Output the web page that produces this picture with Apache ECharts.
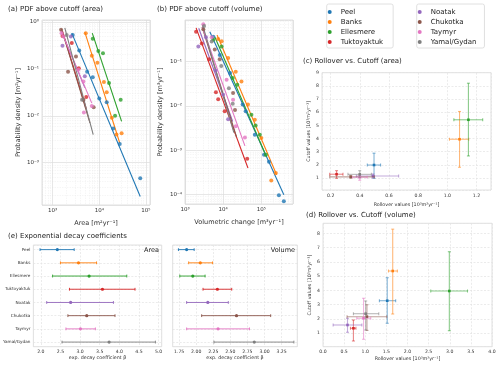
<!DOCTYPE html>
<html>
<head>
<meta charset="utf-8">
<script src="https://cdn.jsdelivr.net/npm/echarts@6/dist/echarts.min.js"></script>
<style>
html, body { margin: 0; padding: 0; background: #fff; }
#chart { width: 500px; height: 371px; }
</style>
</head>
<body>
<div id="chart"></div>
<script>
// regions, in legend order
const regions = ['Peel', 'Banks', 'Ellesmere', 'Tuktoyaktuk', 'Noatak', 'Chukotka', 'Taymyr', 'Yamal/Gydan'];
const colors = ['#1f77b4', '#ff7f0e', '#2ca02c', '#d62728', '#9467bd', '#8c564b', '#e377c2', '#7f7f7f'];

// (a) PDF above cutoff (area): points as [log10 area, log10 density]
const areaPts = [
  [[3.43, -0.28], [3.57, -0.61], [3.74, -1.06], [3.86, -1.18], [4.00, -1.63], [4.16, -1.71], [4.30, -2.27], [4.44, -2.60], [4.88, -3.33]],
  [[3.71, -0.24], [3.84, -0.72], [3.96, -0.87], [4.10, -1.28], [4.16, -1.50], [4.27, -2.04], [4.37, -2.40], [4.48, -2.37]],
  [[3.86, -0.36], [3.98, -0.62], [4.08, -0.67], [4.21, -1.30], [4.34, -2.00], [4.46, -1.66]],
  [[3.21, -0.30], [3.41, -0.45], [3.56, -0.99], [3.72, -1.60]],
  [[3.21, -0.51], [3.39, -0.31], [3.69, -1.16]],
  [[3.18, -0.17], [3.50, -0.74], [3.33, -1.06], [3.66, -1.66], [3.88, -1.82]],
  [[3.19, -0.24], [3.23, -0.31], [3.55, -1.02], [3.66, -1.27], [3.84, -1.79], [3.67, -1.93]],
  [[3.30, -0.28], [3.63, -1.66]]
];
// fitted power laws (end points, log10)
const areaFit = [
  [[3.41, -0.24], [4.88, -3.72]],
  [[3.69, -0.22], [4.44, -2.58]],
  [[3.85, -0.24], [4.48, -2.12]],
  [[3.21, -0.20], [3.72, -1.85]],
  [[3.19, -0.21], [3.69, -1.40]],
  [[3.19, -0.15], [3.80, -2.15]],
  [[3.17, -0.17], [3.84, -1.73]],
  [[3.26, -0.13], [3.87, -2.40]]
];

// (b) PDF above cutoff (volume): [log10 volume, log10 density]
const volPts = [
  [[3.74, -0.44], [3.91, -0.85], [4.18, -1.26], [4.51, -1.97], [4.59, -2.12], [4.83, -2.65], [5.07, -3.10], [5.20, -3.26], [5.46, -4.01], [5.59, -4.15]],
  [[3.87, -0.49], [3.96, -0.54], [4.13, -0.92], [4.33, -1.23], [4.48, -1.45], [4.65, -1.97], [4.83, -2.31], [5.00, -2.72], [5.26, -3.68], [5.38, -3.51]],
  [[3.74, -0.51], [3.96, -0.66], [4.25, -1.37], [4.37, -1.52], [4.74, -2.20], [4.85, -2.44], [4.96, -2.65], [5.12, -3.10]],
  [[3.29, -0.33], [3.44, -0.59], [3.63, -0.95], [3.81, -1.69], [3.87, -1.85], [4.04, -2.12], [4.63, -3.19]],
  [[3.35, -0.66], [3.55, -0.45], [3.80, -1.20], [4.00, -1.75], [4.13, -2.30]],
  [[3.48, -0.27], [3.78, -0.73], [3.91, -0.95], [4.26, -1.71], [4.31, -2.09]],
  [[3.48, -0.16], [3.70, -0.45], [4.09, -1.41], [4.26, -1.86], [4.33, -2.46], [4.57, -2.71]],
  [[3.50, -0.20], [3.70, -0.55], [3.95, -1.10], [4.15, -1.60], [4.25, -1.95]]
];
const volFit = [
  [[3.65, -0.33], [5.59, -4.00]],
  [[3.84, -0.40], [5.40, -3.55]],
  [[3.78, -0.44], [5.13, -3.14]],
  [[3.29, -0.24], [4.65, -3.40]],
  [[3.36, -0.25], [4.25, -2.35]],
  [[3.45, -0.22], [4.35, -2.70]],
  [[3.45, -0.22], [4.57, -2.90]],
  [[3.46, -0.17], [4.28, -2.60]]
];

// (c) rollover vs cutoff, area: [rollover, cutoff, rollLo, rollHi, cutLo, cutHi]
const areaRoll = [
  [0.497, 1.98, 0.451, 0.542, 0.97, 2.88],
  [1.084, 3.94, 1.015, 1.147, 1.81, 6.05],
  [1.145, 5.42, 1.045, 1.243, 2.67, 8.20],
  [0.240, 1.28, 0.193, 0.284, 0.97, 1.55],
  [0.490, 1.15, 0.376, 0.666, 1.00, 1.30],
  [0.337, 1.08, 0.193, 0.500, 0.98, 1.18],
  [0.399, 1.05, 0.350, 0.450, 0.82, 1.20],
  [0.399, 1.27, 0.318, 0.479, 1.05, 1.55]
];
// (d) rollover vs cutoff, volume
const volRoll = [
  [1.52, 3.28, 1.335, 1.72, 1.70, 4.89],
  [1.65, 5.36, 1.55, 1.76, 2.35, 8.29],
  [2.99, 3.96, 2.55, 3.42, 1.18, 6.71],
  [0.72, 1.35, 0.65, 0.78, 0.46, 1.93],
  [0.58, 1.58, 0.24, 0.92, 1.07, 2.05],
  [1.04, 2.16, 0.57, 1.51, 1.20, 3.00],
  [0.96, 2.05, 0.80, 1.13, 0.58, 3.45],
  [1.01, 2.37, 0.72, 1.32, 1.23, 3.26]
];

// (e) exponential decay coefficient beta: [beta, lo, hi]
const betaArea = [
  [2.42, 1.98, 2.85], [2.96, 2.50, 3.42], [3.23, 2.30, 4.19], [3.57, 2.73, 4.40],
  [2.76, 2.15, 3.85], [3.17, 2.69, 3.89], [3.01, 2.64, 3.39], [3.74, 2.54, 4.92]
];
const betaVol = [
  [1.86, 1.74, 1.97], [2.06, 1.89, 2.24], [1.95, 1.76, 2.13], [2.31, 2.10, 2.52],
  [2.17, 1.86, 2.47], [2.59, 2.08, 3.09], [2.32, 1.86, 2.78], [2.85, 2.26, 3.43]
];

const SUP = { '0': '⁰', '1': '¹', '2': '²', '3': '³', '4': '⁴', '5': '⁵', '6': '⁶', '7': '⁷', '8': '⁸', '9': '⁹', '-': '⁻' };
function pow10Label(v) {
  const l = Math.log10(v);
  const e = Math.round(l);
  if (Math.abs(l - e) > 1e-6) return '';
  return '10' + String(e).split('').map(c => SUP[c]).join('');
}

const FONT = 'DejaVu Sans';
const gridLine = { show: true, lineStyle: { color: '#e3e3e3', width: 0.7, type: [2, 1.5] } };

function logAxis(gi, min, max, name, gap) {
  return {
    type: 'log', gridIndex: gi, min: min, max: max,
    name: name, nameLocation: 'middle', nameGap: gap,
    nameTextStyle: { fontSize: 6.5, color: '#333' },
    axisLine: { show: false }, axisTick: { show: false },
    axisLabel: { fontSize: 5.5, color: '#333', margin: 3, formatter: pow10Label, showMinLabel: false, showMaxLabel: false },
    splitLine: { show: true, lineStyle: { color: '#dcdcdc', width: 0.7 } },
    minorTick: { show: false, splitNumber: 9 },
    minorSplitLine: { show: true, lineStyle: { color: '#ececec', width: 0.5, type: [1.5, 1] } }
  };
}
function valAxis(gi, min, max, step, opts) {
  return Object.assign({
    type: 'value', gridIndex: gi, min: min, max: max, minInterval: step, maxInterval: step,
    nameLocation: 'middle', nameTextStyle: { fontSize: 4.8, color: '#333' },
    axisLine: { show: false }, axisTick: { show: false },
    axisLabel: { fontSize: 4.6, color: '#333', margin: 3, showMinLabel: false, showMaxLabel: false },
    splitLine: gridLine
  }, opts);
}

const grids = [
  { left: 42, top: 20, width: 108, height: 185 },     // a
  { left: 185, top: 20, width: 108, height: 184 },    // b
  { left: 322, top: 72.7, width: 169, height: 117.3 }, // c
  { left: 323, top: 223.3, width: 169, height: 123.4 }, // d
  { left: 33.3, top: 245, width: 128.4, height: 101.7 }, // e area
  { left: 172.7, top: 245, width: 124.6, height: 101.7 } // e volume
].map(g => Object.assign({ show: true, borderColor: '#d8d8d8', borderWidth: 0.8, backgroundColor: '#fff' }, g));

const xAxes = [
  logAxis(0, Math.pow(10, 2.77), Math.pow(10, 5.09), 'Area [m²yr⁻¹]', 15),
  logAxis(1, 1000, Math.pow(10, 5.83), 'Volumetric change [m³yr⁻¹]', 15),
  valAxis(2, 0.14, 1.3, 0.2, { name: 'Rollover values [10³m²yr⁻¹]', nameGap: 12,
    axisLabel: { fontSize: 4.6, color: '#333', margin: 3, showMinLabel: false, showMaxLabel: false, formatter: v => v.toFixed(1) } }),
  valAxis(3, 0, 4, 0.5, { name: 'Rollover values [10³m³yr⁻¹]', nameGap: 10,
    axisLabel: { fontSize: 4.6, color: '#333', margin: 3, formatter: v => v.toFixed(1) } }),
  valAxis(4, 1.81, 5.08, 0.5, { name: 'exp. decay coefficient β', nameGap: 9,
    axisLabel: { fontSize: 4.6, color: '#333', margin: 3, showMinLabel: false, showMaxLabel: false, formatter: v => v.toFixed(1) } }),
  valAxis(5, 1.656, 3.48, 0.25, { name: 'exp. decay coefficient β', nameGap: 9,
    axisLabel: { fontSize: 4.6, color: '#333', margin: 3, showMinLabel: false, showMaxLabel: false, formatter: v => v.toFixed(2) } })
];
const yAxes = [
  logAxis(0, Math.pow(10, -3.9), Math.pow(10, 0.04), 'Probability density [m²yr⁻¹]', 20),
  logAxis(1, Math.pow(10, -4.21), Math.pow(10, -0.063), 'Probability density [m³yr⁻¹]', 21),
  valAxis(2, 0.08, 9, 1, { name: 'Cutoff values [10³m²yr⁻¹]', nameGap: 11, axisLabel: { fontSize: 4.6, color: '#333', margin: 3, showMinLabel: false, showMaxLabel: true } }),
  valAxis(3, 0.06, 8.7, 1, { name: 'Cutoff values [10³m³yr⁻¹]', nameGap: 11 }),
  valAxis(4, -0.35, 7.35, 1, { inverse: true,
    axisLabel: { fontSize: 4.2, color: '#333', margin: 3, showMinLabel: false, showMaxLabel: false, formatter: v => regions[v] || '' } }),
  valAxis(5, -0.35, 7.35, 1, { inverse: true, axisLabel: { show: false } })
];

function errorBars(capHalf, markerSize, shape, barAlpha, barWidth) {
  return function (params, api) {
    const x = api.value(0), y = api.value(1);
    const c = api.coord([x, y]);
    const xl = api.coord([api.value(2), y]), xh = api.coord([api.value(3), y]);
    const col = api.visual('color');
    const bar = { stroke: col, lineWidth: barWidth, opacity: barAlpha };
    const kids = [
      { type: 'line', shape: { x1: xl[0], y1: c[1], x2: xh[0], y2: c[1] }, style: bar },
      { type: 'line', shape: { x1: xl[0], y1: c[1] - capHalf, x2: xl[0], y2: c[1] + capHalf }, style: bar },
      { type: 'line', shape: { x1: xh[0], y1: c[1] - capHalf, x2: xh[0], y2: c[1] + capHalf }, style: bar }
    ];
    if (api.value(4) != null && !isNaN(api.value(4))) {
      const yl = api.coord([x, api.value(4)]), yh = api.coord([x, api.value(5)]);
      kids.push(
        { type: 'line', shape: { x1: c[0], y1: yl[1], x2: c[0], y2: yh[1] }, style: bar },
        { type: 'line', shape: { x1: c[0] - capHalf, y1: yl[1], x2: c[0] + capHalf, y2: yl[1] }, style: bar },
        { type: 'line', shape: { x1: c[0] - capHalf, y1: yh[1], x2: c[0] + capHalf, y2: yh[1] }, style: bar }
      );
    }
    const h = markerSize / 2;
    if (shape === 'rect') {
      kids.push({ type: 'rect', shape: { x: c[0] - h, y: c[1] - h, width: markerSize, height: markerSize }, style: { fill: col } });
    } else {
      kids.push({ type: 'circle', shape: { cx: c[0], cy: c[1], r: h }, style: { fill: col } });
    }
    return { type: 'group', children: kids };
  };
}

const toVal = p => [Math.pow(10, p[0]), Math.pow(10, p[1])];
const series = [];
regions.forEach((r, i) => {
  const col = colors[i];
  series.push({ type: 'line', name: r, xAxisIndex: 0, yAxisIndex: 0, data: areaFit[i].map(toVal), symbol: 'none', lineStyle: { color: col, width: 1.1 }, itemStyle: { color: col }, z: 2 });
  series.push({ type: 'scatter', name: r, xAxisIndex: 0, yAxisIndex: 0, data: areaPts[i].map(toVal), symbolSize: 4, itemStyle: { color: col }, z: 3 });
  series.push({ type: 'line', name: r, xAxisIndex: 1, yAxisIndex: 1, data: volFit[i].map(toVal), symbol: 'none', lineStyle: { color: col, width: 1.1 }, itemStyle: { color: col }, z: 2 });
  series.push({ type: 'scatter', name: r, xAxisIndex: 1, yAxisIndex: 1, data: volPts[i].map(toVal), symbolSize: 4, itemStyle: { color: col }, z: 3 });
  series.push({ type: 'custom', name: r, xAxisIndex: 2, yAxisIndex: 2, data: [areaRoll[i]], renderItem: errorBars(1.5, 2.6, 'rect', 0.55, 1.1), itemStyle: { color: col }, clip: false, z: 3 });
  series.push({ type: 'custom', name: r, xAxisIndex: 3, yAxisIndex: 3, data: [volRoll[i]], renderItem: errorBars(1.5, 2.6, 'rect', 0.55, 1.1), itemStyle: { color: col }, clip: false, z: 3 });
  series.push({ type: 'custom', name: r, xAxisIndex: 4, yAxisIndex: 4, data: [[betaArea[i][0], i, betaArea[i][1], betaArea[i][2]]], renderItem: errorBars(1.4, 3.2, 'circle', 0.9, 1), itemStyle: { color: col }, clip: false, z: 3 });
  series.push({ type: 'custom', name: r, xAxisIndex: 5, yAxisIndex: 5, data: [[betaVol[i][0], i, betaVol[i][1], betaVol[i][2]]], renderItem: errorBars(1.4, 3.2, 'circle', 0.9, 1), itemStyle: { color: col }, clip: false, z: 3 });
});

const titleStyle = { fontSize: 7, fontWeight: 'normal', color: '#222', fontFamily: FONT };
const legendBase = {
  orient: 'vertical', icon: 'circle', itemWidth: 12, itemHeight: 4, itemGap: 2,
  textStyle: { fontSize: 7, color: '#222', lineHeight: 8, fontFamily: FONT },
  borderColor: '#d8d8d8', borderWidth: 0.8, borderRadius: 2, backgroundColor: '#fff'
};

const option = {
  animation: false,
  backgroundColor: '#fff',
  textStyle: { fontFamily: FONT },
  title: [
    { text: '(a) PDF above cutoff (area)', left: 8, top: 6, padding: 0, textStyle: titleStyle },
    { text: '(b) PDF above cutoff (volume)', left: 157, top: 6, padding: 0, textStyle: titleStyle },
    { text: '(c) Rollover vs. Cutoff (area)', left: 303, top: 58, padding: 0, textStyle: titleStyle },
    { text: '(d) Rollover vs. Cutoff (volume)', left: 306, top: 212, padding: 0, textStyle: titleStyle },
    { text: '(e) Exponential decay coefficients', left: 8, top: 233, padding: 0, textStyle: titleStyle },
    { text: 'Area', right: 341, top: 247, padding: 0, textStyle: Object.assign({}, titleStyle, { fontSize: 6.5 }) },
    { text: 'Volume', right: 205, top: 247, padding: 0, textStyle: Object.assign({}, titleStyle, { fontSize: 6.5 }) }
  ],
  legend: [
    Object.assign({ data: regions.slice(0, 4), left: 326.7, top: 4, padding: [4, 10, 2, 1] }, legendBase),
    Object.assign({ data: regions.slice(4), left: 416.7, top: 4, padding: [4, 8, 2, 1] }, legendBase)
  ],
  grid: grids,
  xAxis: xAxes,
  yAxis: yAxes,
  series: series
};

const chart = echarts.init(document.getElementById('chart'), null, { renderer: 'canvas' });
chart.setOption(option);
</script>
</body>
</html>
